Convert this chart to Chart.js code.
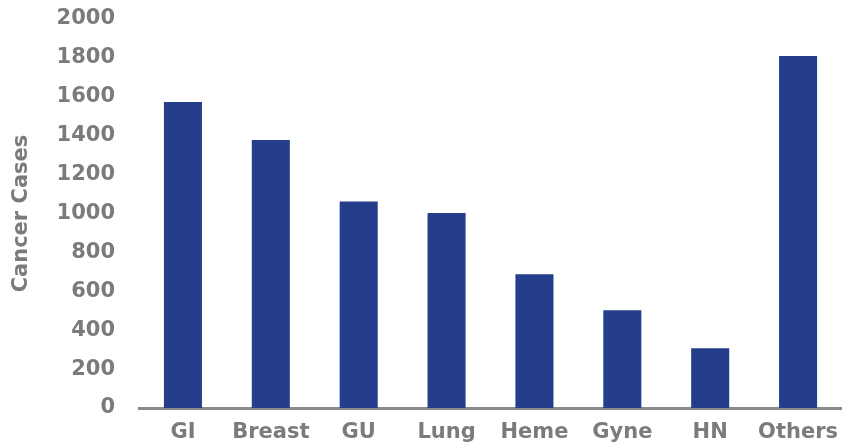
<!DOCTYPE html>
<html>
<head>
<meta charset="utf-8">
<script src="https://cdn.jsdelivr.net/npm/chart.js@4"></script>
<style>
  html, body { margin: 0; padding: 0; background: #fff; }
  #wrap { width: 842px; height: 444px; }
</style>
</head>
<body>
<div id="wrap"><canvas id="cases" width="842" height="444"></canvas></div>
<script>
const categories = ["GI", "Breast", "GU", "Lung", "Heme", "Gyne", "HN", "Others"];
const caseCounts = [1573, 1378, 1062, 1002, 688, 503, 307, 1810];
const yTicks = [0, 200, 400, 600, 800, 1000, 1200, 1400, 1600, 1800, 2000];

const grey = '#7b7b7b';
const font = { family: 'DejaVu Sans', weight: 'bold', size: 21 };

const ctx = document.getElementById("cases");
const casesChart = new Chart(ctx, {
  type: "bar",
  data: {
    labels: categories,
    datasets: [{
      data: caseCounts,
      backgroundColor: '#243e8b',
      barPercentage: 0.866,
      categoryPercentage: 0.5
    }]
  },
  options: {
    responsive: false,
    animation: false,
    layout: { padding: { top: 19, right: 0, bottom: 0, left: 0 } },
    plugins: {
      legend: { display: false },
      tooltip: { enabled: false }
    },
    scales: {
      x: {
        afterFit: (axis) => { axis.height = 36; axis.paddingRight = 0; axis.paddingLeft = 0; },
        grid: { display: false, drawTicks: false },
        border: { display: true, color: '#8a8a8a', width: 3 },
        ticks: { color: grey, font: font, padding: 12, maxRotation: 0 }
      },
      y: {
        min: 0,
        max: 2000,
        afterBuildTicks: (axis) => { axis.ticks = yTicks.map(v => ({ value: v })); },
        afterFit: (axis) => { axis.width = 139; axis.paddingTop = 0; axis.paddingBottom = 0; },
        grid: { display: false, drawTicks: false },
        border: { display: false },
        ticks: {
          color: grey,
          font: font,
          padding: 24,
          callback: (v) => String(v)
        },
        title: {
          display: true,
          text: "Cancer Cases",
          color: grey,
          font: { family: 'DejaVu Sans', weight: 'bold', size: 21 },
          padding: { top: 9, bottom: 0 }
        }
      }
    }
  }
});
</script>
</body>
</html>
